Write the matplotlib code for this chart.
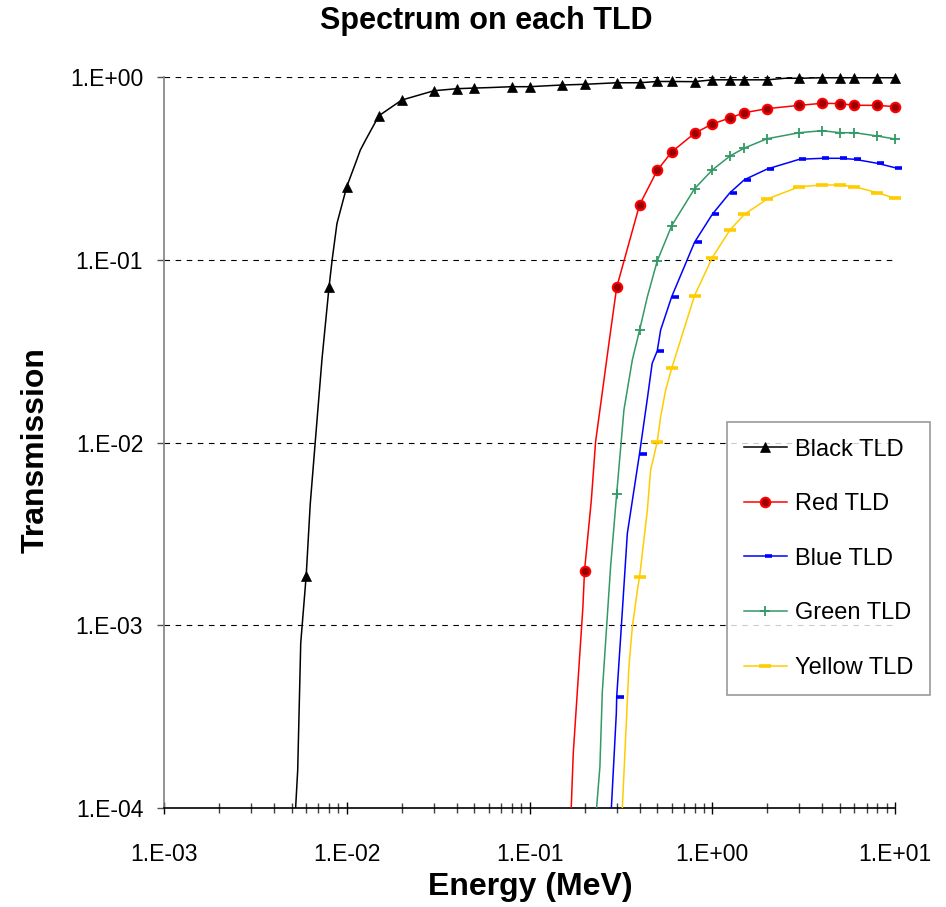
import matplotlib
matplotlib.use("Agg")
import matplotlib.pyplot as plt
import numpy as np
from matplotlib.lines import Line2D
from matplotlib.path import Path
from matplotlib.ticker import FixedLocator, FixedFormatter, LogLocator, NullFormatter

plt.rcParams['font.family'] = ['Liberation Sans', 'DejaVu Sans']

# ---------------- data ----------------
x_ticks = [1e-3, 1e-2, 1e-1, 1e0, 1e1]
x_ticklabels = ["1.E-03", "1.E-02", "1.E-01", "1.E+00", "1.E+01"]
y_ticks = [1e-4, 1e-3, 1e-2, 1e-1, 1e0]
y_ticklabels = ["1.E-04", "1.E-03", "1.E-02", "1.E-01", "1.E+00"]

# marker points
black_E = [0.006, 0.008, 0.01, 0.015, 0.02, 0.03, 0.04, 0.05, 0.08, 0.1, 0.15, 0.2, 0.3,
           0.4, 0.5, 0.6, 0.8, 1.0, 1.25, 1.5, 2, 3, 4, 5, 6, 8, 10]
black_T = [1.87e-3, 0.071, 0.251, 0.614, 0.748, 0.841, 0.863, 0.870, 0.885, 0.885, 0.904,
           0.912, 0.930, 0.930, 0.945, 0.945, 0.943, 0.965, 0.965, 0.965, 0.965, 0.984,
           0.991, 0.991, 0.991, 0.991, 0.991]

red_E = [0.2, 0.3, 0.4, 0.5, 0.6, 0.8, 1.0, 1.25, 1.5, 2, 3, 4, 5, 6, 8, 10]
red_T = [1.99e-3, 0.0707, 0.1995, 0.3085, 0.389, 0.492, 0.553, 0.597, 0.638, 0.671,
         0.700, 0.718, 0.715, 0.700, 0.700, 0.688]

blue_E = [0.3, 0.4, 0.5, 0.6, 0.8, 1.0, 1.25, 1.5, 2, 3, 4, 5, 6, 8, 10]
blue_T = [4.05e-4, 8.69e-3, 0.0317, 0.0628, 0.1246, 0.1772, 0.2328, 0.2742, 0.3138,
          0.3546, 0.359, 0.359, 0.3546, 0.3372, 0.3189]

green_E = [0.3, 0.4, 0.5, 0.6, 0.8, 1.0, 1.25, 1.5, 2, 3, 4, 5, 6, 8, 10]
green_T = [5.25e-3, 0.0411, 0.0985, 0.1536, 0.2447, 0.3098, 0.3695, 0.4088, 0.4597,
           0.4957, 0.5084, 0.4957, 0.4957, 0.4755, 0.4579]

yellow_E = [0.4, 0.5, 0.6, 0.8, 1.0, 1.25, 1.5, 2, 3, 4, 5, 6, 8, 10]
yellow_T = [1.83e-3, 0.0101, 0.0255, 0.0636, 0.1027, 0.1455, 0.1772, 0.215, 0.2511,
            0.2565, 0.2565, 0.2511, 0.2328, 0.2168]

# extra points on the (finer) curves, between markers
black_extra_E = [0.00522, 0.00539, 0.0056, 0.00631, 0.00672, 0.00732, 0.00832, 0.00884,
                 0.0112, 0.01186, 0.0128, 0.06, 2.5]
black_extra_T = [0.9e-4, 1.61e-4, 8.0e-4, 4.58e-3, 0.01, 0.0286, 0.1, 0.158,
                 0.34, 0.398, 0.46, 0.875, 0.984]
red_extra_E = [0.1685, 0.1736, 0.196, 0.218, 0.23, 0.272]
red_extra_T = [0.9e-4, 2.0e-4, 1.26e-3, 4.85e-3, 0.0101, 0.0349]
blue_extra_E = [0.2790, 0.2986, 0.318, 0.343, 0.4404, 0.469, 0.522]
blue_extra_T = [0.9e-4, 3.3e-4, 9.8e-4, 3.18e-3, 0.01708, 0.0271, 0.0413]
green_extra_E = [0.2308, 0.2428, 0.2503, 0.2642, 0.2778, 0.3286, 0.3653, 0.4415]
green_extra_T = [0.9e-4, 1.68e-4, 4.33e-4, 9.8e-4, 2.09e-3, 0.01506, 0.02828, 0.0628]
yellow_extra_E = [0.3205, 0.35, 0.3653, 0.392, 0.4415, 0.46, 0.522, 0.556, 0.645]
yellow_extra_T = [0.9e-4, 5.93e-4, 9.8e-4, 1.63e-3, 4.27e-3, 7.07e-3, 0.01384, 0.01937, 0.0321]

labels = ["Black TLD", "Red TLD", "Blue TLD", "Green TLD", "Yellow TLD"]

# ---------------- styles ----------------
half_dash = Path([(0.0, 0.0), (1.0, 0.0)])
styles = {
    "Black TLD": dict(color="black", marker="^", ms=7.5, mfc="black", mec="black", mew=0.5),
    "Red TLD": dict(color="#FF0000", marker="o", ms=6.8, mfc="#990000", mec="#FF0000", mew=1.5),
    "Blue TLD": dict(color="#0000FF", marker=half_dash, ms=10, mfc="none", mec="#0000FF", mew=2.6),
    "Green TLD": dict(color="#339966", marker="+", ms=7.5, mfc="#339966", mec="#339966", mew=1.3),
    "Yellow TLD": dict(color="#FFCC00", marker="_", ms=8, mfc="#FFCC00", mec="#FFCC00", mew=2.6),
}
series = {
    "Black TLD": (black_E, black_T, black_extra_E, black_extra_T),
    "Red TLD": (red_E, red_T, red_extra_E, red_extra_T),
    "Blue TLD": (blue_E, blue_T, blue_extra_E, blue_extra_T),
    "Green TLD": (green_E, green_T, green_extra_E, green_extra_T),
    "Yellow TLD": (yellow_E, yellow_T, yellow_extra_E, yellow_extra_T),
}

fig = plt.figure(figsize=(9.46, 9.07), dpi=100)
ax = fig.add_axes([164 / 946, 1 - 808 / 907, (895 - 164) / 946, (808 - 77) / 907])
ax.set_xscale("log")
ax.set_yscale("log")
ax.set_xlim(1e-3, 10)
ax.set_ylim(1e-4, 1)

# grid
for yv in y_ticks[1:]:
    ax.axhline(yv, color="black", lw=0.8, ls=(0, (5, 5)), zorder=1)

handles = []
for name in labels:
    E, T, eE, eT = series[name]
    st = styles[name]
    lE = np.array(list(E) + list(eE))
    lT = np.array(list(T) + list(eT))
    order = np.argsort(lE)
    ax.plot(lE[order], lT[order], color=st["color"], lw=1.1, zorder=3, clip_on=True)
    ax.plot(E, T, ls="none", marker=st["marker"], ms=st["ms"], mfc=st["mfc"],
            mec=st["mec"], mew=st["mew"], zorder=4, clip_on=False)
    handles.append(Line2D([], [], color=st["color"], lw=1.1, marker=st["marker"],
                          ms=st["ms"], mfc=st["mfc"], mec=st["mec"], mew=st["mew"]))

# axes styling
for s in ["top", "right"]:
    ax.spines[s].set_visible(False)
ax.spines["left"].set_color("#808080")
ax.spines["left"].set_linewidth(1.2)
ax.spines["bottom"].set_color("black")
ax.spines["bottom"].set_linewidth(1.2)

ax.yaxis.set_major_locator(FixedLocator(y_ticks))
ax.yaxis.set_major_formatter(FixedFormatter(y_ticklabels))
ax.yaxis.set_minor_locator(FixedLocator([]))
ax.xaxis.set_major_locator(FixedLocator(x_ticks))
ax.xaxis.set_major_formatter(FixedFormatter(x_ticklabels))
ax.xaxis.set_minor_locator(LogLocator(base=10, subs=np.arange(2, 10)))
ax.xaxis.set_minor_formatter(NullFormatter())

ax.tick_params(axis="y", which="major", direction="out", length=5, width=1,
               color="#505050", labelsize=16.5, pad=10)
ax.tick_params(axis="x", which="major", direction="inout", length=9, width=1,
               color="black", labelsize=16.5, pad=21)
ax.tick_params(axis="x", which="minor", direction="inout", length=7.5, width=1,
               color="#404040")

fig.text(486 / 946, 1 - 21 / 907, "Spectrum on each TLD", fontsize=22, fontweight="bold",
         ha="center", va="center")
fig.text(530 / 946, 1 - 887 / 907, "Energy (MeV)", fontsize=23, fontweight="bold",
         ha="center", va="center")
fig.text(36 / 946, 1 - 450 / 907, "Transmission", fontsize=23, fontweight="bold",
         ha="center", va="center", rotation=90)

leg = fig.legend(handles, labels, loc="upper left", bbox_to_anchor=(727 / 946, 1 - 422 / 907),
                 bbox_transform=fig.transFigure, frameon=True, fancybox=False, fontsize=17,
                 handlelength=1.85, handletextpad=0.35, labelspacing=1.38, borderpad=0.7,
                 borderaxespad=0, numpoints=1)
leg.get_frame().set_edgecolor("#808080")
leg.get_frame().set_linewidth(1.2)

fig.savefig("out.png", dpi=100)
